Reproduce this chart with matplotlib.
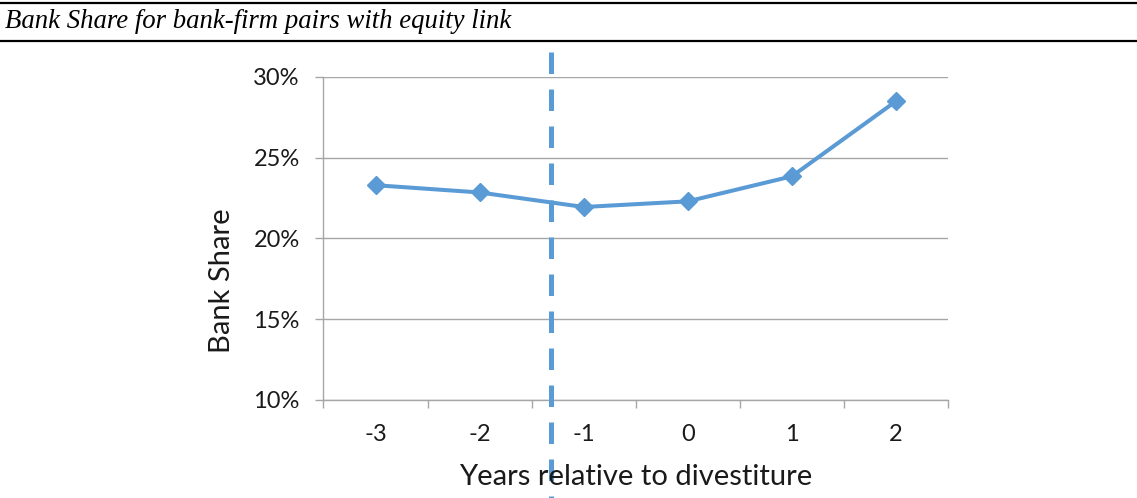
import matplotlib
matplotlib.use("Agg")
import matplotlib.pyplot as plt
import matplotlib.transforms as mtransforms
from matplotlib.ticker import FixedLocator, FuncFormatter

# years relative to divestiture and the bank share in each year (percent)
years = ["-3", "-2", "-1", "0", "1", "2"]
bank_share = [23.3, 22.85, 21.95, 22.3, 23.85, 28.5]
divest_pos = 1.69  # position of the divestiture marker on the category axis

line_blue = "#5B9BD5"
grid_gray = "#A6A6A6"
text_col = "#1A1A1A"
sans = ["Lato", "DejaVu Sans"]

fig = plt.figure(figsize=(11.37, 4.98), dpi=100)
ax = fig.add_axes([0.2845, 0.1968, 0.5493, 0.6486])

x = list(range(len(years)))
ax.plot(x, bank_share, color=line_blue, lw=2.9, marker="D", ms=9,
        markeredgecolor=line_blue, zorder=3)

ax.set_xlim(-0.5, len(years) - 0.5)
ax.set_ylim(10, 30)
ax.yaxis.set_major_locator(FixedLocator([10, 15, 20, 25, 30]))
ax.yaxis.set_major_formatter(FuncFormatter(lambda v, p: f"{v:.0f}%"))
ax.grid(axis="y", color=grid_gray, lw=1.0)
ax.set_axisbelow(True)

# boundary ticks between categories, labels at the centres
ax.xaxis.set_major_locator(FixedLocator([i - 0.5 for i in range(len(years) + 1)]))
ax.xaxis.set_major_formatter(FuncFormatter(lambda v, p: ""))
ax.xaxis.set_minor_locator(FixedLocator(x))
ax.set_xticklabels(years, minor=True)
ax.tick_params(axis="x", which="major", length=6, width=1, color=grid_gray, direction="out")
ax.tick_params(axis="x", which="minor", length=0, pad=17, labelsize=17, labelcolor=text_col)
ax.tick_params(axis="y", length=6, width=1, color=grid_gray, pad=11, labelsize=17, labelcolor=text_col)
for lab in ax.get_xticklabels(minor=True) + ax.get_yticklabels():
    lab.set_family(sans)

for side in ["top", "right"]:
    ax.spines[side].set_visible(False)
for side in ["left", "bottom"]:
    ax.spines[side].set_color(grid_gray)
    ax.spines[side].set_linewidth(1.0)

# dashed divestiture marker running past the plot area
trans = mtransforms.blended_transform_factory(ax.transData, ax.transAxes)
ax.plot([divest_pos, divest_pos], [1.078, -0.35], transform=trans, clip_on=False,
        color=line_blue, lw=3.6, dashes=(4.3, 3.1), solid_capstyle="butt",
        dash_capstyle="butt", zorder=4)

fig.text(0.5589, 1 - 477 / 498, "Years relative to divestiture", ha="center", va="center",
         fontsize=21, color=text_col, family=sans)
fig.text(222 / 1137, 1 - 281 / 498, "Bank Share", ha="center", va="center", rotation=90,
         fontsize=21, color=text_col, family=sans)

# header rule, caption and underline
fig.add_artist(plt.Line2D([0, 1], [1 - 3 / 498] * 2, transform=fig.transFigure, color="black", lw=1.6))
fig.add_artist(plt.Line2D([0, 1], [1 - 41.5 / 498] * 2, transform=fig.transFigure, color="black", lw=1.6))
fig.text(5 / 1137, 1 - 22 / 498, "Bank Share for bank-firm pairs with equity link",
         ha="left", va="center", fontsize=19.3, style="italic", family="Liberation Serif")

fig.savefig("out.png", dpi=100)
